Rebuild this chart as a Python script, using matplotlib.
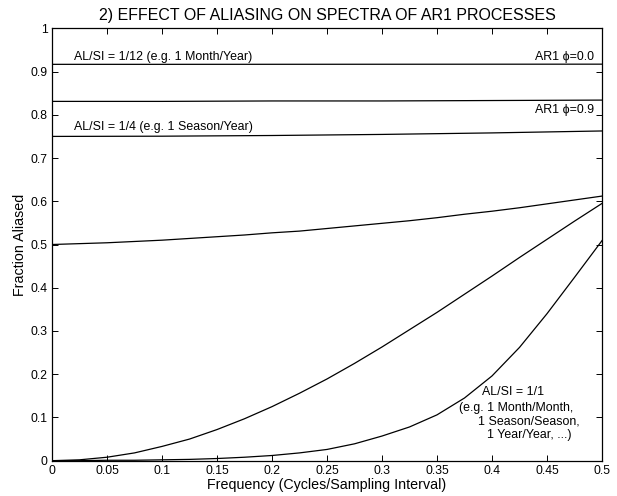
"""Fraction of AR1 spectral power aliased, for several averaging lengths."""

import matplotlib

matplotlib.use("Agg")
import matplotlib.pyplot as plt
import numpy as np

plt.rcParams["font.family"] = ["Liberation Sans", "DejaVu Sans"]

# frequency grids (cycles / sampling interval)
FREQ = [0.0, 0.025, 0.05, 0.075, 0.1, 0.125, 0.15, 0.175, 0.2, 0.225, 0.25,
        0.275, 0.3, 0.325, 0.35, 0.375, 0.4, 0.425, 0.45, 0.475, 0.5]
FREQ_COARSE = [0.0, 0.1, 0.2, 0.3, 0.4, 0.5]

# AL/SI = 1/12
month_year_phi0 = [0.9167, 0.9167, 0.9168, 0.9169, 0.9170, 0.9171]
month_year_phi9 = [0.831, 0.831, 0.832, 0.832, 0.833, 0.834]

# AL/SI = 1/4
season_year_phi0 = [0.750, 0.7505, 0.7521, 0.7546, 0.7581, 0.7626]
season_year_phi9 = [0.500, 0.502, 0.504, 0.507, 0.510, 0.514, 0.518, 0.522,
                    0.527, 0.531, 0.537, 0.543, 0.549, 0.555, 0.562, 0.570,
                    0.577, 0.585, 0.594, 0.603, 0.612]

# AL/SI = 1/1
same_phi0 = [0.000, 0.002, 0.008, 0.018, 0.033, 0.050, 0.072, 0.097, 0.125,
             0.156, 0.189, 0.225, 0.263, 0.303, 0.343, 0.385, 0.427, 0.470,
             0.512, 0.554, 0.595]
same_phi9 = [0.000, 0.000, 0.001, 0.001, 0.002, 0.003, 0.005, 0.008, 0.012,
             0.018, 0.026, 0.039, 0.057, 0.078, 0.106, 0.145, 0.196, 0.262,
             0.340, 0.424, 0.509]

XTICKS = [0, 0.05, 0.1, 0.15, 0.2, 0.25, 0.3, 0.35, 0.4, 0.45, 0.5]
XTICK_LABELS = ["0", "0.05", "0.1", "0.15", "0.2", "0.25", "0.3", "0.35",
                "0.4", "0.45", "0.5"]
YTICKS = [0, 0.1, 0.2, 0.3, 0.4, 0.5, 0.6, 0.7, 0.8, 0.9, 1]
YTICK_LABELS = ["0", "0.1", "0.2", "0.3", "0.4", "0.5", "0.6", "0.7", "0.8",
                "0.9", "1"]

fig = plt.figure(figsize=(6.17, 4.96), dpi=100)
ax = fig.add_axes([0.0843, 0.0712, 0.8914, 0.8717])

line_kw = dict(color="black", linewidth=0.9)
ax.plot(FREQ_COARSE, month_year_phi0, **line_kw)
ax.plot(FREQ_COARSE, month_year_phi9, **line_kw)
ax.plot(FREQ_COARSE, season_year_phi0, **line_kw)
ax.plot(FREQ, season_year_phi9, **line_kw)
ax.plot(FREQ, same_phi0, **line_kw)
ax.plot(FREQ, same_phi9, **line_kw)

ax.set_xlim(0, 0.5)
ax.set_ylim(0, 1)
ax.set_xticks(XTICKS)
ax.set_xticklabels(XTICK_LABELS)
ax.set_yticks(YTICKS)
ax.set_yticklabels(YTICK_LABELS)
ax.tick_params(direction="in", length=4, width=0.7, labelsize=8.8,
               top=True, right=True, pad=3)
for spine in ax.spines.values():
    spine.set_linewidth(0.9)

ax.set_title("2) EFFECT OF ALIASING ON SPECTRA OF AR1 PROCESSES",
             fontsize=11.5, pad=6)
ax.set_xlabel("Frequency (Cycles/Sampling Interval)", fontsize=10.3, labelpad=1)
ax.set_ylabel("Fraction Aliased", fontsize=10.3, labelpad=3)

note = dict(fontsize=8.9, va="center")
ax.text(0.020, 0.933, "AL/SI = 1/12 (e.g. 1 Month/Year)", ha="left", **note)
ax.text(0.4925, 0.933, "AR1 \u03d5=0.0", ha="right", **note)
ax.text(0.4925, 0.812, "AR1 \u03d5=0.9", ha="right", **note)
ax.text(0.020, 0.771, "AL/SI = 1/4 (e.g. 1 Season/Year)", ha="left", **note)

ax.text(0.3906, 0.160, "AL/SI = 1/1", ha="left", **note)
ax.text(0.3700, 0.121, "(e.g. 1 Month/Month,", ha="left", **note)
ax.text(0.3870, 0.090, "1 Season/Season,", ha="left", **note)
ax.text(0.3950, 0.059, "1 Year/Year, ...)", ha="left", **note)

fig.savefig("out.png", dpi=100)
